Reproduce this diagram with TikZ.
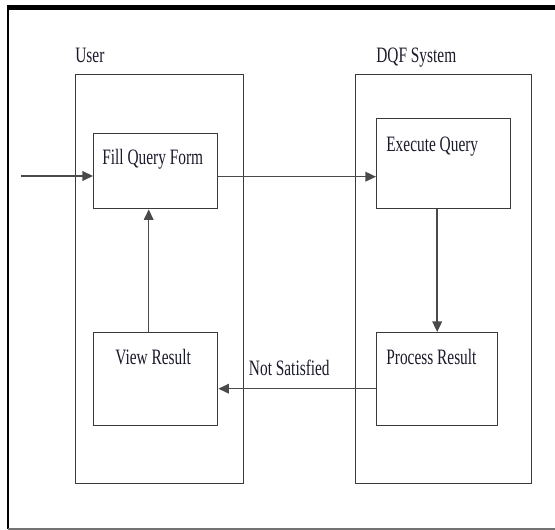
\documentclass[tikz,border=0pt]{standalone}
\usepackage{fontspec}
\setmainfont{Liberation Serif}[FakeStretch=0.7]
\usepackage{tikz}
\usetikzlibrary{arrows.meta, positioning, calc}
\definecolor{kline}{HTML}{3A3A3A}
\definecolor{karrow}{HTML}{4A4A4A}
\definecolor{ktext}{HTML}{1A1A2A}

\tikzset{
  lanebox/.style={draw=kline, line width=0.7pt, minimum width=#1, anchor=north west, inner sep=0pt},
  stepbox/.style={draw=kline, line width=0.8pt, anchor=north west, inner sep=0pt},
  boxtext/.style={font=\fontsize{12.5}{15}\selectfont, text=ktext, anchor=base west, inner sep=0pt},
  flow/.style={draw=karrow, line width=0.8pt, -{Triangle[length=6pt, width=5.5pt]}}
}

\begin{document}
\begin{tikzpicture}[x=1cm, y=1cm]
\useasboundingbox (0,0) rectangle (11.1,10.6);
% outer frame (no right edge)
\draw[black, line width=2.3pt] (0.14,10.45) -- (11.1,10.45);
\draw[black, line width=1.7pt] (0.16,10.49) -- (0.16,0.02);
\draw[black!55, line width=0.7pt] (0.16,0.02) -- (11.1,0.02);

% swim lanes
\node[lanebox=3.36cm, minimum height=8.18cm] (user) at (1.50,9.12) {};
\node[lanebox=3.52cm, minimum height=8.18cm] (dqf) at (7.10,9.12) {};
\node[boxtext] at ([yshift=0.22cm]user.north west) {User};
\node[boxtext] at ([xshift=0.42cm, yshift=0.22cm]dqf.north west) {DQF System};

% steps
\node[stepbox, minimum width=2.48cm, minimum height=1.50cm] (fill) at (1.86,7.94) {};
\node[stepbox, minimum width=2.68cm, minimum height=1.80cm] (exec) at (7.52,8.24) {};
\node[stepbox, minimum width=2.48cm, minimum height=1.86cm] (view) at (1.86,3.96) {};
\node[stepbox, minimum width=2.42cm, minimum height=1.86cm] (proc) at (7.52,3.96) {};

\node[boxtext] at ([xshift=0.18cm, yshift=-0.64cm]fill.north west) {Fill Query Form};
\node[boxtext] at ([xshift=0.20cm, yshift=-0.68cm]exec.north west) {Execute Query};
\node[boxtext] at ([xshift=0.44cm, yshift=-0.66cm]view.north west) {View Result};
\node[boxtext] at ([xshift=0.20cm, yshift=-0.66cm]proc.north west) {Process Result};

% connectors
\coordinate (start) at (0.42,7.08);
\draw[flow] (start) -- (start -| fill.west);
\coordinate (fq) at ([yshift=-0.11cm]fill.east);
\draw[flow] (fq) -- (fq -| exec.west);
\draw[flow] (exec.south -| proc.north) -- (proc.north);
\coordinate (vr) at ([xshift=-0.14cm]view.north);
\draw[flow] (vr) -- (vr |- fill.south);
\coordinate (pr) at ([yshift=-0.19cm]proc.west);
\draw[flow] (pr) -- (pr -| view.east)
  node[boxtext, anchor=base, pos=0.55, yshift=0.26cm] {Not Satisfied};
\end{tikzpicture}
\end{document}
